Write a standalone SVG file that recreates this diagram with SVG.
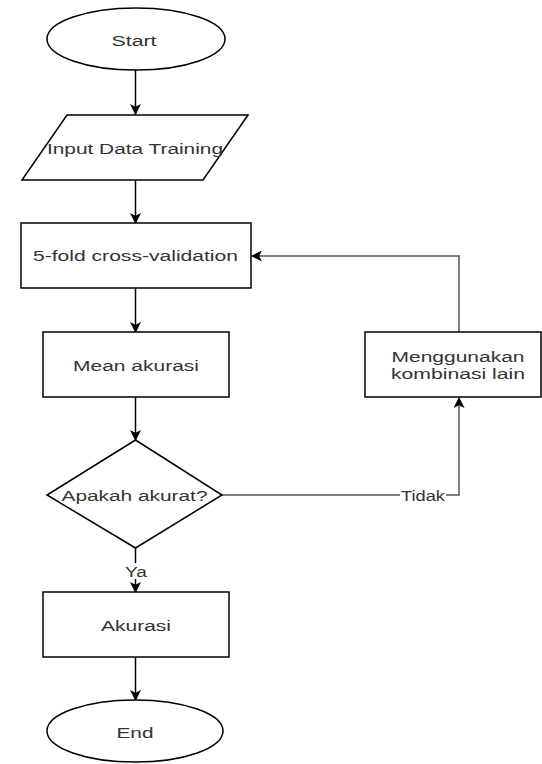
<svg xmlns="http://www.w3.org/2000/svg" width="542" height="764" viewBox="0 0 542 764">
<style>
.shape{fill:#fff;stroke:#000;stroke-width:1.5}
.t{font-family:"Liberation Sans",Arial,sans-serif;font-size:15.5px;fill:#333;text-anchor:middle;dominant-baseline:central}
.c{fill:none;stroke:#000;stroke-width:1.5}
.g{fill:none;stroke:#555;stroke-width:1.5}
</style>
<defs>
<marker id="ah" viewBox="0 0 10 10" refX="9" refY="5" markerWidth="11" markerHeight="11" markerUnits="userSpaceOnUse" orient="auto">
<path d="M0,0 L10,5 L0,10 L2.5,5 Z" fill="#000"/>
</marker>
</defs>
<rect width="542" height="764" fill="#fff"/>
<g id="connectors">
<line class="c" x1="135.5" y1="70" x2="135.5" y2="114" marker-end="url(#ah)"/>
<line class="c" x1="135.5" y1="180" x2="135.5" y2="223" marker-end="url(#ah)"/>
<line class="c" x1="135.5" y1="288" x2="135.5" y2="332" marker-end="url(#ah)"/>
<line class="c" x1="135.5" y1="397" x2="135.5" y2="440" marker-end="url(#ah)"/>
<line class="c" x1="135.5" y1="548" x2="135.5" y2="592" marker-end="url(#ah)"/>
<line class="c" x1="135.5" y1="657" x2="135.5" y2="700" marker-end="url(#ah)"/>
<polyline class="g" points="222,495 459,495 459,398" marker-end="url(#ah)"/>
<polyline class="g" points="459,332 459,256 252,256" marker-end="url(#ah)"/>
<rect x="125" y="563" width="22" height="16" fill="#fff"/>
<text class="t" x="136" y="571" textLength="22" lengthAdjust="spacingAndGlyphs">Ya</text>
<rect x="400" y="487" width="46" height="16" fill="#fff"/>
<text class="t" x="423" y="495" textLength="44" lengthAdjust="spacingAndGlyphs">Tidak</text>
</g>
<g id="start">
<ellipse class="shape" cx="136" cy="39" rx="89" ry="31"/>
<text class="t" x="134" y="40" textLength="45" lengthAdjust="spacingAndGlyphs">Start</text>
</g>
<g id="input">
<polygon class="shape" points="67,115 248,115 203,180 22,180"/>
<text class="t" x="135" y="148" textLength="176" lengthAdjust="spacingAndGlyphs">Input Data Training</text>
</g>
<g id="crossval">
<rect class="shape" x="21" y="223" width="230" height="65"/>
<text class="t" x="135.5" y="255" textLength="205" lengthAdjust="spacingAndGlyphs">5-fold cross-validation</text>
</g>
<g id="mean">
<rect class="shape" x="43" y="332" width="186" height="65"/>
<text class="t" x="136" y="365" textLength="126" lengthAdjust="spacingAndGlyphs">Mean akurasi</text>
</g>
<g id="decision">
<polygon class="shape" points="135.5,440 222,495 135.5,548 47,495"/>
<text class="t" x="134.5" y="495" textLength="146" lengthAdjust="spacingAndGlyphs">Apakah akurat?</text>
</g>
<g id="akurasi">
<rect class="shape" x="43" y="592" width="186" height="65"/>
<text class="t" x="136" y="625" textLength="70" lengthAdjust="spacingAndGlyphs">Akurasi</text>
</g>
<g id="end">
<ellipse class="shape" cx="135" cy="731" rx="88" ry="31"/>
<text class="t" x="135" y="732" textLength="37" lengthAdjust="spacingAndGlyphs">End</text>
</g>
<g id="kombinasi">
<rect class="shape" x="365" y="332" width="176" height="65"/>
<text class="t" x="458" y="356" textLength="133" lengthAdjust="spacingAndGlyphs">Menggunakan</text>
<text class="t" x="458" y="373" textLength="134" lengthAdjust="spacingAndGlyphs">kombinasi lain</text>
</g>
</svg>
